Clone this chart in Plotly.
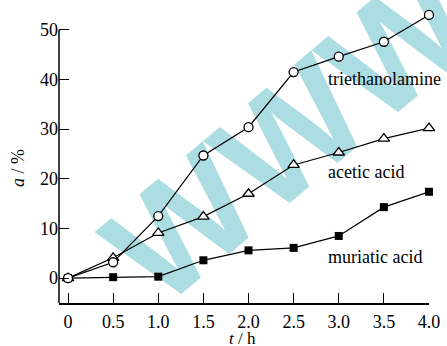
import plotly.graph_objects as go

t = [0, 0.5, 1.0, 1.5, 2.0, 2.5, 3.0, 3.5, 4.0]
triethanolamine = [0, 3.2, 12.5, 24.7, 30.4, 41.5, 44.6, 47.6, 53.0]
acetic_acid = [0, 4.1, 9.1, 12.4, 17.0, 22.8, 25.3, 28.1, 30.2]
muriatic_acid = [0, 0.2, 0.3, 3.6, 5.6, 6.1, 8.5, 14.3, 17.4]
x_ticks = [0, 0.5, 1.0, 1.5, 2.0, 2.5, 3.0, 3.5, 4.0]
x_ticktext = ["0", "0.5", "1.0", "1.5", "2.0", "2.5", "3.0", "3.5", "4.0"]
y_ticks = [0, 10, 20, 30, 40, 50]

FONT = "Liberation Serif"

fig = go.Figure()

fig.add_trace(go.Scatter(
    x=t, y=muriatic_acid, mode="lines+markers",
    line=dict(color="black", width=1.2),
    marker=dict(symbol="square", size=8, color="black"),
    cliponaxis=False, showlegend=False))
fig.add_trace(go.Scatter(
    x=t, y=acetic_acid, mode="lines+markers",
    line=dict(color="black", width=1.2),
    marker=dict(symbol="triangle-up", size=10, color="white",
                line=dict(color="black", width=1.3)),
    cliponaxis=False, showlegend=False))
fig.add_trace(go.Scatter(
    x=t, y=triethanolamine, mode="lines+markers",
    line=dict(color="black", width=1.2),
    marker=dict(symbol="circle", size=9, color="white",
                line=dict(color="black", width=1.3)),
    cliponaxis=False, showlegend=False))

labels = [("triethanolamine", 40.1), ("acetic acid", 21.4), ("muriatic acid", 4.2)]
for txt, yv in labels:
    fig.add_annotation(x=2.86, y=yv, text=txt, showarrow=False,
                       xanchor="left", yanchor="middle",
                       font=dict(family=FONT, size=18, color="black"))

# axis titles
fig.add_annotation(xref="paper", yref="paper", x=0.497, y=-0.118, text="<i>t</i> / h",
                   showarrow=False, xanchor="center", yanchor="middle",
                   font=dict(family=FONT, size=17, color="black"))
fig.add_annotation(xref="paper", yref="paper", x=-0.111, y=0.453, text="<i>a</i> / %",
                   showarrow=False, xanchor="center", yanchor="middle", textangle=-90,
                   font=dict(family=FONT, size=18, color="black"))

# watermark
fig.add_shape(type="rect", xref="paper", yref="paper", x0=0.25, x1=0.95, y0=0.25, y1=0.95,
              line=dict(width=0), fillcolor="rgba(0,0,0,0)", layer="below",
              label=dict(text="<b>WWW</b>", textangle=-40, textposition="middle center",
                         font=dict(family="Liberation Sans", size=150, color="#acdde3")))

# y axis line only up to 50
fig.add_shape(type="line", xref="paper", yref="y", x0=0, x1=0, y0=-5, y1=50,
              line=dict(color="black", width=1.5), layer="above")

fig.update_layout(
    width=447, height=346,
    margin=dict(l=59, r=18, t=5, b=43),
    paper_bgcolor="white", plot_bgcolor="white",
    font=dict(family=FONT, size=18, color="black"),
    xaxis=dict(range=[-0.1, 4.0], tickvals=x_ticks, ticktext=x_ticktext,
               ticks="inside", ticklen=10, tickwidth=1.2, tickcolor="black",
               showline=True, linecolor="black", linewidth=1.5,
               showgrid=False, zeroline=False, ticklabelstandoff=2,
               automargin=False),
    yaxis=dict(range=[-5, 55], tickvals=y_ticks,
               ticks="inside", ticklen=10, tickwidth=1.2, tickcolor="black",
               showline=False, automargin=False,
               showgrid=False, zeroline=False),
)

fig.write_html("out.html")
